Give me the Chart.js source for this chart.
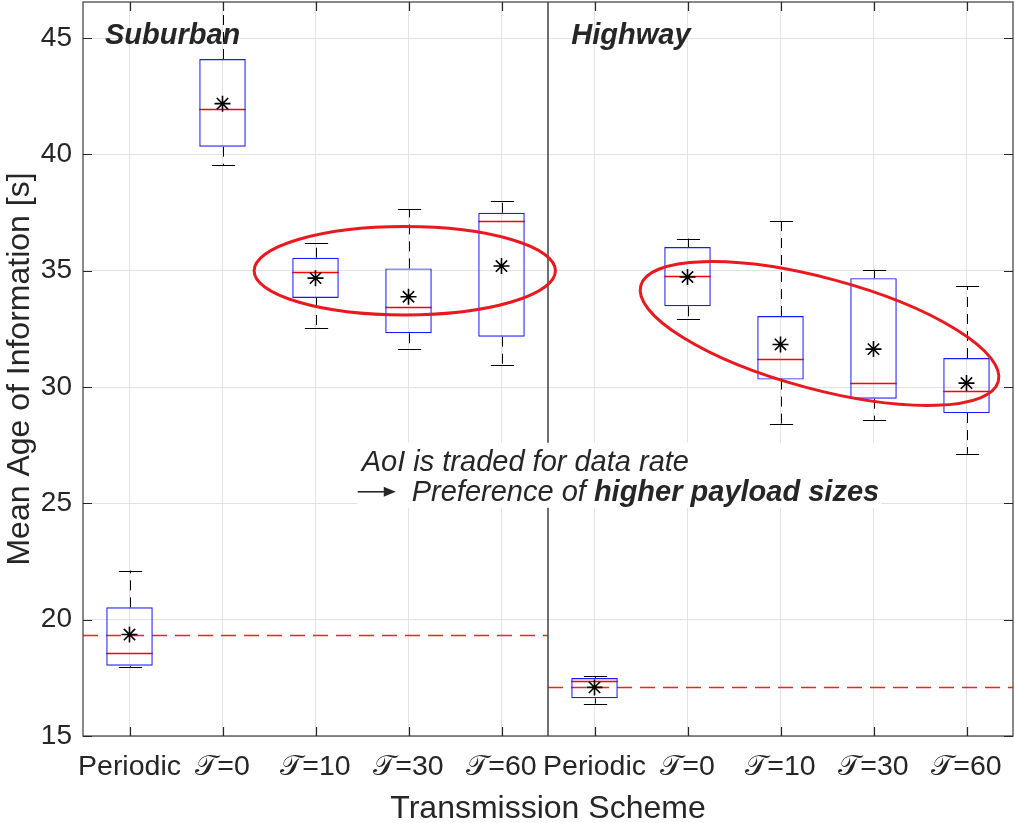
<!DOCTYPE html>
<html>
<head>
<meta charset="utf-8">
<script src="https://cdn.jsdelivr.net/npm/chart.js@4.4.1/dist/chart.umd.min.js"></script>
<style>
html,body{margin:0;padding:0;background:#fff;}
#wrap{width:1015px;height:823px;}
</style>
</head>
<body>
<div id="wrap"><canvas id="c" width="1015" height="823"></canvas></div>
<script>
// ---- data ----
const categories   = ['Periodic','\u{1D4AF}=0','\u{1D4AF}=10','\u{1D4AF}=30','\u{1D4AF}=60','Periodic','\u{1D4AF}=0','\u{1D4AF}=10','\u{1D4AF}=30','\u{1D4AF}=60'];
const whiskerLow   = [17.98, 39.54, 32.55, 31.63, 30.93, 16.39, 32.91, 28.42, 28.57, 27.13];
const quartile1    = [18.02, 40.33, 33.83, 32.31, 32.16, 16.62, 33.47, 30.32, 29.50, 28.88];
const medians      = [18.58, 41.93, 34.94, 33.44, 37.12, 17.35, 34.76, 31.20, 30.19, 29.84];
const quartile3    = [20.53, 44.10, 35.56, 35.10, 37.49, 17.49, 36.02, 33.05, 34.68, 31.25];
const whiskerHigh  = [22.11, 47.00, 36.20, 37.64, 38.01, 17.58, 36.38, 37.15, 35.04, 34.33];
const means        = [19.36, 42.18, 34.68, 33.88, 35.20, 17.09, 34.73, 31.83, 31.63, 30.17];
const groupNames   = ['Suburban', 'Highway'];
const groupRefMean = [19.34, 17.09];
const yTicks       = [15, 20, 25, 30, 35, 40, 45];

// ---- styling / annotation layout ----
const FONT = "'Liberation Sans', Arial, Helvetica, sans-serif";
const TXT = '#262626';
const Y_MIN = 15, Y_MAX = 46.55;
const groupSpan = [[-0.5, 4.5], [4.5, 9.5]];          // category index ranges
const groupTitleAt = [[-0.27, 44.74], [4.745, 44.74]]; // [x index, y value] of title baseline-left
const ellipses = [
  {cx: 2.96, cy: 35.0, rx: 1.62, ry: 1.9, rot: 0},     // rx in categories, ry in y-units
  {cx: 7.42, cy: 32.30, rx: 1.99, ryPx: 55.5, rot: 15}
];
const noteAt = [2.497, 26.40];                         // left/baseline of note line 1

function zeroPad(s) { s.paddingLeft = 0; s.paddingRight = 0; s.paddingTop = 0; s.paddingBottom = 0; }

const parts = {
  id: 'parts',
  beforeDatasetsDraw(chart) {
    const {ctx, chartArea: a, scales: {x, y}} = chart;
    const u = x.getPixelForValue(1) - x.getPixelForValue(0);
    ctx.save();
    ctx.beginPath(); ctx.rect(a.left, a.top, a.right - a.left, a.bottom - a.top); ctx.clip();
    // reference dashed lines
    ctx.strokeStyle = 'rgb(255,30,30)'; ctx.lineWidth = 1.4; ctx.setLineDash([15, 8]);
    groupRefMean.forEach((v, g) => {
      const yy = Math.round(y.getPixelForValue(v)) + 0.5;
      ctx.beginPath();
      ctx.moveTo(x.getPixelForValue(groupSpan[g][0]), yy);
      ctx.lineTo(x.getPixelForValue(groupSpan[g][1]), yy);
      ctx.stroke();
    });
    // whiskers
    ctx.strokeStyle = '#000'; ctx.lineWidth = 1;
    for (let i = 0; i < categories.length; i++) {
      const cx = Math.round(x.getPixelForValue(i)) + 0.5;
      ctx.setLineDash([10, 7]);
      ctx.beginPath();
      ctx.moveTo(cx, y.getPixelForValue(quartile3[i])); ctx.lineTo(cx, y.getPixelForValue(whiskerHigh[i]));
      ctx.moveTo(cx, y.getPixelForValue(quartile1[i])); ctx.lineTo(cx, y.getPixelForValue(whiskerLow[i]));
      ctx.stroke();
      ctx.setLineDash([]);
      ctx.beginPath();
      [whiskerHigh[i], whiskerLow[i]].forEach(v => {
        const yy = Math.round(y.getPixelForValue(v)) + 0.5;
        ctx.moveTo(cx - 0.125 * u, yy); ctx.lineTo(cx + 0.125 * u, yy);
      });
      ctx.stroke();
    }
    // medians
    ctx.strokeStyle = '#ff0000'; ctx.lineWidth = 1.5;
    for (let i = 0; i < categories.length; i++) {
      const cx = x.getPixelForValue(i);
      const yy = Math.round(y.getPixelForValue(medians[i])) + 0.5;
      ctx.beginPath(); ctx.moveTo(cx - 0.25 * u, yy); ctx.lineTo(cx + 0.25 * u, yy); ctx.stroke();
    }
    ctx.restore();
  },
  afterDatasetsDraw(chart) {
    const {ctx, chartArea: a, scales: {x, y}} = chart;
    const u = x.getPixelForValue(1) - x.getPixelForValue(0);
    const vy = y.getPixelForValue(0) - y.getPixelForValue(1);
    ctx.save();
    ctx.beginPath(); ctx.rect(a.left, a.top, a.right - a.left, a.bottom - a.top); ctx.clip();
    // group separator
    ctx.strokeStyle = '#404040'; ctx.lineWidth = 1.5;
    const sx = x.getPixelForValue(groupSpan[1][0]);
    ctx.beginPath(); ctx.moveTo(sx, a.top); ctx.lineTo(sx, a.bottom); ctx.stroke();
    // ellipses
    ctx.strokeStyle = '#e8191f'; ctx.lineWidth = 3;
    ellipses.forEach(e => {
      const px = x.getPixelForValue(e.cx), py = y.getPixelForValue(e.cy);
      const rx = e.rx * u, ry = e.ryPx !== undefined ? e.ryPx : e.ry * vy;
      ctx.beginPath(); ctx.ellipse(px, py, rx, ry, e.rot * Math.PI / 180, 0, Math.PI * 2); ctx.stroke();
    });
    // group titles
    ctx.fillStyle = TXT; ctx.font = 'italic bold 29px ' + FONT; ctx.textBaseline = 'alphabetic'; ctx.textAlign = 'left';
    groupNames.forEach((n, g) => {
      ctx.fillText(n, x.getPixelForValue(groupTitleAt[g][0]) + 0.5, y.getPixelForValue(groupTitleAt[g][1]));
    });
    // note with white background
    const tx = x.getPixelForValue(noteAt[0]), b1 = y.getPixelForValue(noteAt[1]), b2 = b1 + 30;
    const l1 = 'AoI is traded for data rate', l2a = 'Preference of ', l2b = 'higher payload sizes';
    ctx.font = 'italic 29px ' + FONT;
    const w1 = ctx.measureText(l1).width, w2a = ctx.measureText(l2a).width;
    ctx.font = 'italic bold 29px ' + FONT;
    const w2b = ctx.measureText(l2b).width;
    const x2 = tx + 50;
    const right = Math.max(tx + w1, x2 + w2a + w2b);
    ctx.fillStyle = '#fff';
    ctx.fillRect(tx - 4, b1 - 28, right - tx + 6, b2 - b1 + 35);
    ctx.fillStyle = TXT;
    ctx.font = 'italic 29px ' + FONT;
    ctx.fillText(l1, tx, b1);
    ctx.fillText(l2a, x2, b2);
    ctx.font = 'italic bold 29px ' + FONT;
    ctx.fillText(l2b, x2 + w2a, b2);
    // arrow
    const ay = b2 - 9;
    ctx.strokeStyle = TXT; ctx.lineWidth = 1.6;
    ctx.beginPath(); ctx.moveTo(tx - 4, ay); ctx.lineTo(tx + 24, ay); ctx.stroke();
    ctx.beginPath(); ctx.moveTo(tx + 34, ay); ctx.lineTo(tx + 22, ay - 5); ctx.lineTo(tx + 22, ay + 5); ctx.closePath(); ctx.fill();
    ctx.restore();
  },
  afterDraw(chart) {
    const {ctx, chartArea: a, scales: {x, y}} = chart;
    ctx.save();
    ctx.strokeStyle = '#4a4a4a'; ctx.lineWidth = 1.3;
    ctx.strokeRect(a.left, a.top, a.right - a.left, a.bottom - a.top);
    ctx.strokeStyle = '#262626'; ctx.lineWidth = 1.2;
    const tl = 9;
    ctx.beginPath();
    yTicks.forEach(v => {
      const yy = Math.round(y.getPixelForValue(v)) + 0.5;
      ctx.moveTo(a.left, yy); ctx.lineTo(a.left + tl, yy);
      ctx.moveTo(a.right, yy); ctx.lineTo(a.right - tl, yy);
    });
    for (let i = 0; i < categories.length; i++) {
      const xx = Math.round(x.getPixelForValue(i)) + 0.5;
      ctx.moveTo(xx, a.bottom); ctx.lineTo(xx, a.bottom - tl);
      ctx.moveTo(xx, a.top); ctx.lineTo(xx, a.top + tl);
    }
    ctx.stroke();
    ctx.restore();
  }
};

new Chart(document.getElementById('c'), {
  type: 'bar',
  data: {
    labels: categories,
    datasets: [
      {
        type: 'line', label: 'Mean', data: means, showLine: false,
        pointStyle: 'star', pointRadius: 8, borderColor: '#000', pointBorderColor: '#000',
        pointBorderWidth: 1.6, backgroundColor: 'rgba(0,0,0,0)', order: 0
      },
      {
        type: 'bar', label: 'IQR', data: quartile1.map((q, i) => [q, quartile3[i]]),
        backgroundColor: 'rgba(0,0,0,0)', borderColor: '#1a1aff', borderWidth: 1.2,
        borderSkipped: false, barPercentage: 0.5, categoryPercentage: 1.0, order: 1
      }
    ]
  },
  options: {
    responsive: false, animation: false, devicePixelRatio: 1,
    layout: {autoPadding: false, padding: {top: 2, right: 2, left: 0, bottom: 0}},
    plugins: {legend: {display: false}, tooltip: {enabled: false}},
    scales: {
      x: {
        type: 'category', offset: true,
        grid: {offset: false, color: '#e3e3e3', lineWidth: 1, drawTicks: false},
        border: {display: false},
        ticks: {color: TXT, font: {family: FONT, size: 28.5}, padding: 14, maxRotation: 0, minRotation: 0, autoSkip: false},
        title: {display: true, text: 'Transmission Scheme', color: TXT, font: {family: FONT, size: 32}, padding: {top: 0, bottom: -5}},
        afterFit(s) { s.height = 87; zeroPad(s); }
      },
      y: {
        type: 'linear', min: Y_MIN, max: Y_MAX,
        grid: {color: '#e3e3e3', lineWidth: 1, drawTicks: false},
        border: {display: false},
        afterBuildTicks(s) { s.ticks = yTicks.map(v => ({value: v})); },
        ticks: {color: TXT, font: {family: FONT, size: 28}, padding: 11},
        title: {display: true, text: 'Mean Age of Information [s]', color: TXT, font: {family: FONT, size: 32}, padding: {top: 1, bottom: 0}},
        afterFit(s) { s.width = 83; zeroPad(s); }
      }
    }
  },
  plugins: [parts]
});
</script>
</body>
</html>
